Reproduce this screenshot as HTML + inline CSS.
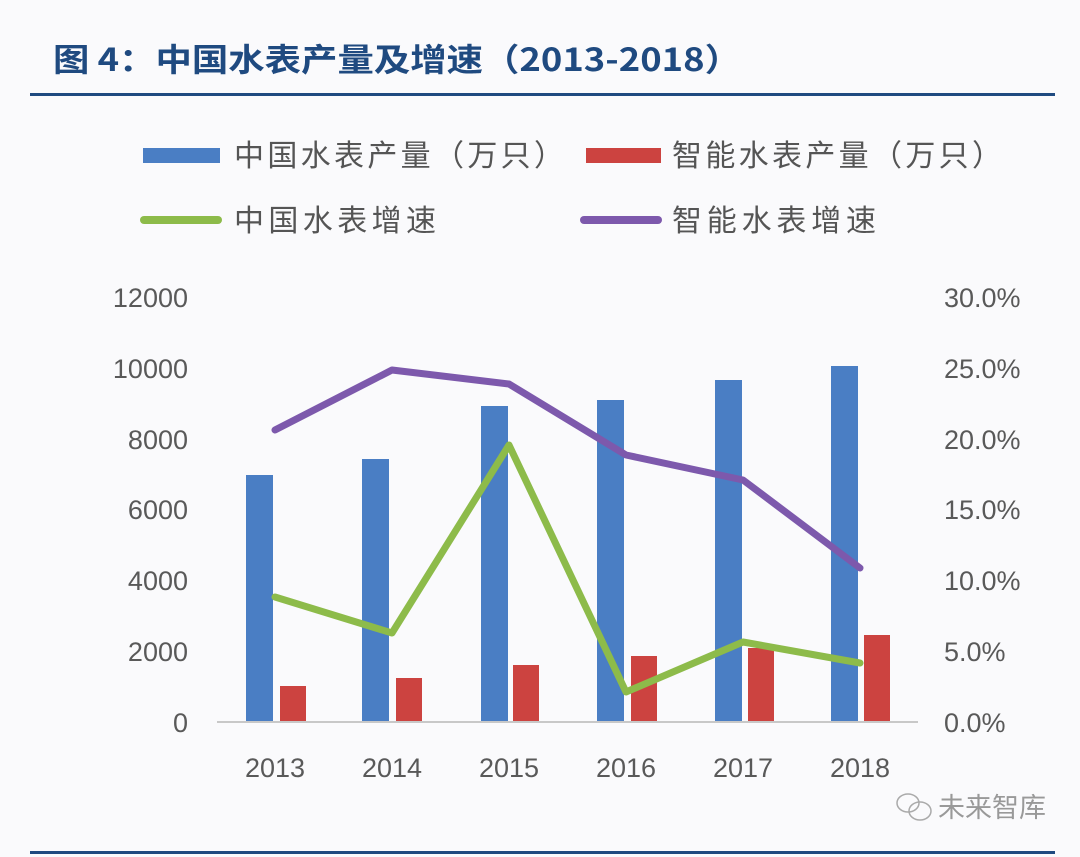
<!DOCTYPE html>
<html><head><meta charset="utf-8"><style>
html,body{margin:0;padding:0;background:#fafafc;}
svg{display:block;}
text{font-family:"Liberation Sans","Noto Sans CJK SC",sans-serif;}
</style></head><body>
<svg width="1080" height="857" viewBox="0 0 1080 857" xmlns="http://www.w3.org/2000/svg">
<rect width="1080" height="857" fill="#fafafc"/>
<text x="53" y="71" font-size="32" font-weight="bold" fill="#1f4a80" textLength="688" lengthAdjust="spacingAndGlyphs" style="font-family:'Noto Sans CJK SC',sans-serif">图 4：中国水表产量及增速（2013-2018）</text>
<rect x="30" y="93" width="1025" height="3" fill="#1f4a80"/>
<rect x="30" y="851" width="1025" height="3" fill="#1f4a80"/>
<!-- legend -->
<rect x="143" y="148" width="77" height="15" fill="#4a7ec4"/>
<text x="234" y="166" font-size="30" fill="#555" textLength="330" style="font-family:'Noto Sans CJK SC',sans-serif">中国水表产量（万只）</text>
<rect x="586" y="148" width="75" height="15" fill="#cc4340"/>
<text x="672" y="166" font-size="30" fill="#555" textLength="330" style="font-family:'Noto Sans CJK SC',sans-serif">智能水表产量（万只）</text>
<line x1="144" y1="220" x2="218" y2="220" stroke="#8dbb4a" stroke-width="8" stroke-linecap="round"/>
<text x="234" y="231" font-size="30" fill="#555" textLength="202" style="font-family:'Noto Sans CJK SC',sans-serif">中国水表增速</text>
<line x1="584" y1="220" x2="658" y2="220" stroke="#7d59ac" stroke-width="8" stroke-linecap="round"/>
<text x="672" y="231" font-size="30" fill="#555" textLength="204" style="font-family:'Noto Sans CJK SC',sans-serif">智能水表增速</text>
<!-- left ticks -->
<g font-size="27" fill="#595959" text-anchor="end">
<text x="188" y="732">0</text><text x="188" y="661">2000</text><text x="188" y="590">4000</text>
<text x="188" y="519">6000</text><text x="188" y="449">8000</text><text x="188" y="378">10000</text><text x="188" y="307">12000</text>
</g>
<g font-size="27" fill="#595959">
<text x="944" y="732">0.0%</text><text x="944" y="661">5.0%</text><text x="944" y="590">10.0%</text>
<text x="944" y="519">15.0%</text><text x="944" y="449">20.0%</text><text x="944" y="378">25.0%</text><text x="944" y="307">30.0%</text>
</g>
<!-- bars -->
<g fill="#4a7ec4">
<rect x="246" y="475" width="27" height="247"/><rect x="362" y="459" width="27" height="263"/>
<rect x="481" y="406" width="27" height="316"/><rect x="597" y="400" width="27" height="322"/>
<rect x="715" y="380" width="27" height="342"/><rect x="831" y="366" width="27" height="356"/>
</g>
<g fill="#cc4340">
<rect x="280" y="686" width="26" height="36"/><rect x="396" y="678" width="26" height="44"/>
<rect x="513" y="665" width="26" height="57"/><rect x="631" y="656" width="26" height="66"/>
<rect x="748" y="648" width="26" height="74"/><rect x="864" y="635" width="26" height="87"/>
</g>
<line x1="217" y1="722" x2="918" y2="722" stroke="#c8c8c8" stroke-width="2"/>
<polyline points="275,597 392,633 509,445 626,692 743,642 860,663" fill="none" stroke="#8dbb4a" stroke-width="7" stroke-linejoin="round" stroke-linecap="round"/>
<polyline points="275,430 392,370 509,384 626,455 743,480 860,568" fill="none" stroke="#7d59ac" stroke-width="7" stroke-linejoin="round" stroke-linecap="round"/>
<g font-size="27" fill="#595959" text-anchor="middle">
<text x="275" y="777">2013</text><text x="392" y="777">2014</text><text x="509" y="777">2015</text>
<text x="626" y="777">2016</text><text x="743" y="777">2017</text><text x="860" y="777">2018</text>
</g>
<!-- watermark -->
<g fill="none" stroke="#aaa" stroke-width="1.5">
<ellipse cx="908" cy="803" rx="11" ry="9"/><ellipse cx="920" cy="811" rx="11" ry="9"/>
</g>
<text x="938" y="817" font-size="27" fill="#999" style="font-family:'Noto Sans CJK SC',sans-serif">未来智库</text>
</svg>
</body></html>
